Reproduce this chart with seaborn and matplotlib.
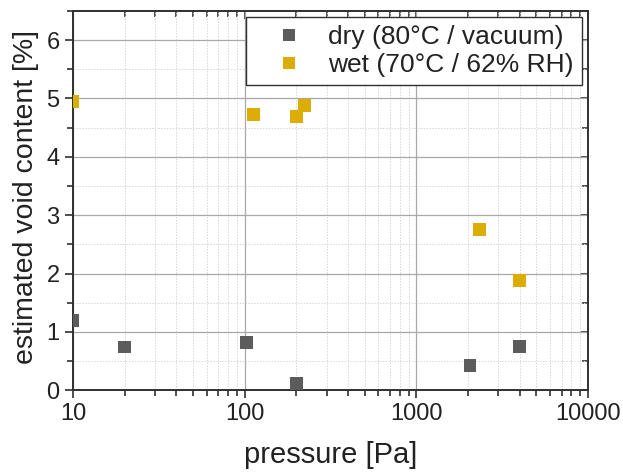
import matplotlib
matplotlib.use("Agg")
import matplotlib.pyplot as plt
import seaborn as sns
import pandas as pd
import numpy as np
from matplotlib.ticker import LogLocator, MultipleLocator, NullFormatter

# Data
dry_label = "dry (80°C / vacuum)"
wet_label = "wet (70°C / 62% RH)"
dry_pressure = [10, 20, 102, 200, 2050, 4000]
dry_void = [1.20, 0.74, 0.82, 0.12, 0.42, 0.75]
wet_pressure = [10, 113, 200, 222, 2320, 4000]
wet_void = [4.95, 4.73, 4.69, 4.88, 2.76, 1.88]

x_ticks = [10, 100, 1000, 10000]
x_tick_labels = ["10", "100", "1000", "10000"]
y_ticks = [0, 1, 2, 3, 4, 5, 6]

df = pd.DataFrame({
    "pressure": dry_pressure + wet_pressure,
    "void": dry_void + wet_void,
    "series": [dry_label] * len(dry_pressure) + [wet_label] * len(wet_pressure),
})

sns.set_style("white")
plt.rcParams["font.family"] = ["Liberation Sans", "DejaVu Sans"]

fig = plt.figure(figsize=(6.23, 4.73), dpi=100)
ax = fig.add_axes([0.117, 0.175, 0.827, 0.802])

ax.set_xscale("log")
ax.set_xlim(10, 10000)
ax.set_ylim(0, 6.5)

sns.scatterplot(data=df, x="pressure", y="void", hue="series",
                palette={dry_label: "#5c5c5c", wet_label: "#dcae05"},
                marker="s", s=85, linewidth=0, ax=ax, zorder=3)

ax.set_xticks(x_ticks)
ax.set_xticklabels(x_tick_labels)
ax.xaxis.set_minor_locator(LogLocator(base=10, subs=np.arange(2, 10)))
ax.xaxis.set_minor_formatter(NullFormatter())
ax.set_yticks(y_ticks)
ax.yaxis.set_minor_locator(MultipleLocator(0.5))

ax.grid(which="major", color="#a8a8a8", linewidth=0.9)
ax.grid(which="minor", color="#d6d6d6", linewidth=0.7, linestyle=(0, (1.5, 1.5)))
ax.set_axisbelow(True)

for sp in ax.spines.values():
    sp.set_color("#303030")
    sp.set_linewidth(1.4)

ax.tick_params(which="both", direction="out", color="#303030", width=1.2,
               labelsize=17, labelcolor="#222222", bottom=True, left=True,
               top=False, right=False)
ax.tick_params(which="major", length=6)
ax.tick_params(which="minor", length=4)

# mirrored inward ticks on top / right
secx = ax.secondary_xaxis("top")
secx.set_xticks(x_ticks)
secx.xaxis.set_minor_locator(LogLocator(base=10, subs=np.arange(2, 10)))
secx.xaxis.set_minor_formatter(NullFormatter())
secx.tick_params(which="both", direction="in", labeltop=False, color="#303030", width=1.2)
secx.tick_params(which="major", length=6)
secx.tick_params(which="minor", length=4)
secx.spines["top"].set_visible(False)
secy = ax.secondary_yaxis("right")
secy.set_yticks(y_ticks)
secy.yaxis.set_minor_locator(MultipleLocator(0.5))
secy.tick_params(which="both", direction="in", labelright=False, color="#303030", width=1.2)
secy.tick_params(which="major", length=6)
secy.tick_params(which="minor", length=4)
secy.spines["right"].set_visible(False)

ax.set_xlabel("pressure [Pa]", fontsize=21, color="#222222")
ax.xaxis.set_label_coords(0.5, -0.133)
ax.set_ylabel("estimated void content [%]", fontsize=20.5, color="#222222")
ax.yaxis.set_label_coords(-0.066, 0.51)

leg = ax.legend(loc="upper right", fontsize=19, frameon=True, fancybox=False,
                edgecolor="#303030", framealpha=1, borderaxespad=0.25,
                handletextpad=0.15, handlelength=2.65, borderpad=0.3,
                labelspacing=0.15, markerscale=1.0)
leg.get_frame().set_linewidth(1.0)
for t in leg.get_texts():
    t.set_color("#222222")

fig.savefig("out.png", dpi=100, facecolor="white")
